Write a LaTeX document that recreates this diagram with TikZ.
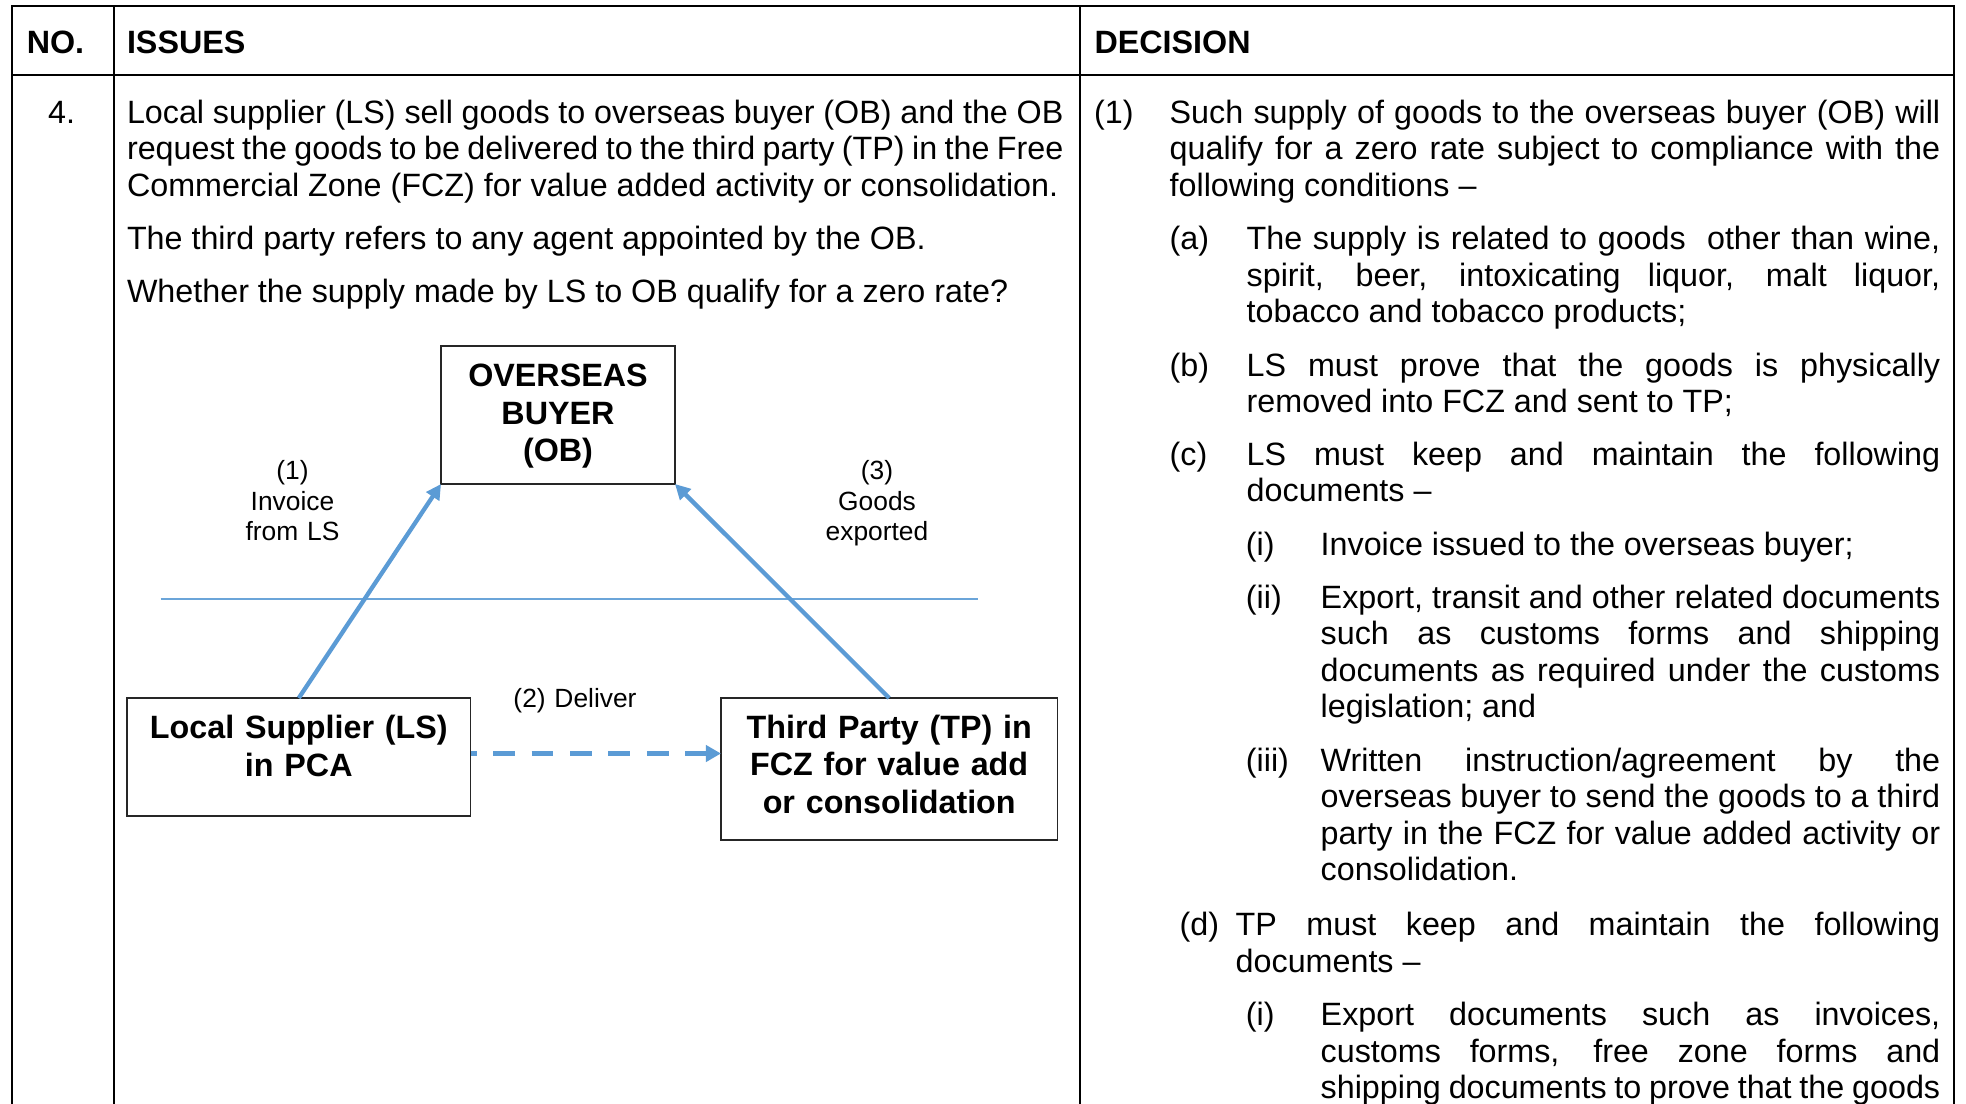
\documentclass[tikz,border=0pt]{standalone}
\usepackage{fontspec}
\setmainfont{Liberation Sans}
\usetikzlibrary{arrows.meta,calc}
\definecolor{arrblue}{HTML}{5B9BD5}
\newcommand\bodyfont{\fontsize{12}{13.6}\selectfont}
\newcommand\boxfont{\fontsize{12}{13.95}\selectfont\bfseries}
\newcommand\labfont{\fontsize{9.8}{11.3}\selectfont}
\hyphenpenalty=10000
\exhyphenpenalty=10000
\tolerance=9999
\begin{document}
\begin{tikzpicture}[x=0.3717pt,y=-0.3717pt,
  para/.style={anchor=base west,inner sep=0pt,outer sep=0pt,text width={#1*0.3717pt},align=justify,font=\bodyfont},
  lbl/.style={anchor=base west,inner sep=0pt,outer sep=0pt,font=\bodyfont},
  hdr/.style={anchor=base west,inner sep=0pt,outer sep=0pt,font=\bodyfont\bfseries},
  tbl/.style={line width=0.65pt,black},
  box/.style={draw=black!85,line width=0.55pt,inner sep=0pt,outer sep=0pt},
  boxtxt/.style={anchor=base,inner sep=0pt,outer sep=0pt,text width={#1*0.3717pt},align=center,font=\boxfont},
  lab/.style={anchor=base,inner sep=0pt,outer sep=0pt,text width={#1*0.3717pt},align=center,font=\labfont},
  arr/.style={draw=arrblue,line width=1.6pt,-{Triangle[length=5.6pt,width=5.6pt]}},
  dasharr/.style={draw=arrblue,line width=1.75pt,dash pattern=on 8.06pt off 6.2pt,dash phase=5.8pt,-{Triangle[length=5.6pt,width=6pt]}},
  thinblue/.style={draw=arrblue!90,line width=0.55pt}
]
\useasboundingbox (0,0) rectangle (1966,1103);
\fill[white] (0,0) rectangle (1966,1103);
\clip (0,0) rectangle (1966,1103);

% table frame
\draw[tbl] (12.3,1110) -- (12.3,6) -- (1954,6) -- (1954,1110);
\draw[tbl] (12.3,75) -- (1954,75);
\draw[tbl] (114,6) -- (114,1110);
\draw[tbl] (1080,6) -- (1080,1110);

% headers
\node[hdr] (hno) at (26.8,53) {NO.};
\node[hdr] (hiss) at (127,53) {ISSUES};
\node[hdr] (hdec) at (1094.5,53) {DECISION};

% left column
\node[anchor=base,inner sep=0pt,font=\bodyfont] (no4) at (61.7,123) {4.};
\node[para=936.5] (iss1) at (127,123) {Local supplier (LS) sell goods to overseas buyer (OB) and the OB\linebreak request the goods to be delivered to the third party (TP) in the Free\linebreak Commercial Zone (FCZ) for value added activity or consolidation.};
\node[para=936.5] (iss2) at (127,249.6) {The third party refers to any agent appointed by the OB.};
\node[para=936.5] (iss3) at (127,302.6) {Whether the supply made by LS to OB qualify for a zero rate?};

% diagram
\node[box,minimum width={234*0.3717pt},minimum height={138*0.3717pt}] (ob) at (558,415) {};
\node[box,minimum width={343.6*0.3717pt},minimum height={118*0.3717pt}] (ls) at (298.8,757) {};
\node[box,minimum width={336.5*0.3717pt},minimum height={142*0.3717pt}] (tp) at (889.2,769) {};
\node[boxtxt=220] (obt) at (558,386.6) {OVERSEAS\\BUYER\\(OB)};
\node[boxtxt=330] (lst) at (298.8,738.5) {Local Supplier (LS)\\in PCA};
\node[boxtxt=330] (tpt) at (889.2,738) {Third Party (TP) in\\FCZ for value add\\or consolidation};

\node[lab=130] (l1) at (292.5,479.8) {(1)\\Invoice\\from LS};
\node[lab=130] (l3) at (877,479.8) {(3)\\Goods\\exported};
\node[lab=200] (l2) at (575,707.2) {(2) Deliver};

\coordinate (hl1) at (160.5,599);
\coordinate (hl2) at (978,599);
\draw[thinblue] (hl1) -- (hl2);

\draw[arr] (ls.north) -- (ob.south west);
\draw[arr] (tp.north) -- (ob.south east);
\draw[dasharr] ([yshift=1.3pt]ls.east) coordinate (ds) -- (ds -| tp.west);

% right column
\node[lbl] (n1) at (1094.2,123) {(1)};
\node[para=770.5] (d1) at (1169.7,123) {Such supply of goods to the overseas buyer (OB) will\linebreak qualify for a zero rate subject to compliance with the\linebreak following conditions –};

\node[lbl] (na) at (1169.7,249.6) {(a)};
\node[para=693.5] (da) at (1246.7,249.6) {The supply is related to goods~ other than wine,\linebreak spirit, beer, intoxicating liquor, malt liquor,\linebreak tobacco and tobacco products;};

\node[lbl] (nb) at (1169.7,376.3) {(b)};
\node[para=693.5] (db) at (1246.7,376.3) {LS must prove that the goods is physically\linebreak removed into FCZ and sent to TP;};

\node[lbl] (nc) at (1169.7,465.3) {(c)};
\node[para=693.5] (dc) at (1246.7,465.3) {LS must keep and maintain the following\linebreak documents –};

\node[lbl] (nci) at (1245.9,555.5) {(i)};
\node[para=619.5] (dci) at (1320.7,555.5) {Invoice issued to the overseas buyer;};

\node[lbl] (ncii) at (1245.9,608.2) {(ii)};
\node[para=619.5] (dcii) at (1320.7,608.2) {Export, transit and other related documents\linebreak such as customs forms and shipping\linebreak documents as required under the customs\linebreak legislation; and};

\node[lbl] (nciii) at (1245.9,771.2) {(iii)};
\node[para=619.5] (dciii) at (1320.7,771.2) {Written instruction/agreement by the\linebreak overseas buyer to send the goods to a third\linebreak party in the FCZ for value added activity or\linebreak consolidation.};

\node[lbl] (nd) at (1179.7,935.4) {(d)};
\node[para=704.5] (dd) at (1235.7,935.4) {TP must keep and maintain the following\linebreak documents –};

\node[lbl] (ndi) at (1245.9,1025.7) {(i)};
\node[para=619.5] (ddi) at (1320.7,1025.7) {\spaceskip=0.278em plus 0.25em minus 0.12em\parfillskip=0pt Export documents such as invoices,\linebreak customs forms, free zone forms and\linebreak shipping documents to prove that the goods};
\end{tikzpicture}
\end{document}
